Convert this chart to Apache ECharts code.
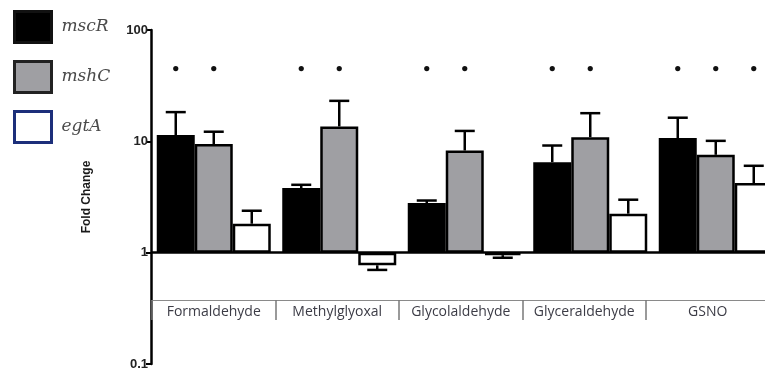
<!DOCTYPE html>
<html>
<head>
<meta charset="utf-8">
<script src="https://cdn.jsdelivr.net/npm/echarts@6/dist/echarts.min.js"></script>
<style>
  html, body { margin: 0; padding: 0; background: #fff; }
  #chart { width: 765px; height: 373px; }
</style>
</head>
<body>
<div id="chart"></div>
<script>
// Aldehyde / GSNO exposure: fold change of three genes (log scale)
const categories = ['Formaldehyde', 'Methylglyoxal', 'Glycolaldehyde', 'Glyceraldehyde', 'GSNO'];
const geneNames = ['mscR', 'mshC', 'egtA'];

const mscR    = [11.4, 3.8, 2.79, 6.5, 10.7];
const mscRErr = [18.3, 4.07, 2.94, 9.17, 16.3];
const mshC    = [9.44, 13.6, 8.27, 10.9, 7.57];
const mshCErr = [12.2, 23.1, 12.4, 17.9, 10.1];
const egtA    = [1.82, 0.77, 0.95, 2.24, 4.22];
const egtAErr = [2.38, 0.70, 0.90, 2.99, 6.03];

// significance markers (*)
const mscRSig = [1, 1, 1, 1, 1];
const mshCSig = [1, 1, 1, 1, 1];
const egtASig = [0, 0, 0, 0, 1];
const sigLevel = 45;

const yTicks = [0.1, 1, 10, 100];

const BAR_W = 38;
const fills = ['#000000', '#9f9fa3', '#ffffff'];
const values = [mscR, mshC, egtA];
const errs = [mscRErr, mshCErr, egtAErr];
const sigs = [mscRSig, mshCSig, egtASig];

function errSeries(k) {
  return {
    type: 'custom',
    xAxisIndex: 0, yAxisIndex: 0,
    z: 1,
    data: categories.map((c, i) => [i, values[k][i], errs[k][i], sigs[k][i]]),
    renderItem: function (params, api) {
      const cat = api.value(0);
      const p0 = api.coord([cat, api.value(1)]);
      const p1 = api.coord([cat, api.value(2)]);
      const x = p0[0] + (k - 1) * BAR_W;
      const half = 10;
      const style = { stroke: '#000', lineWidth: 2.5 };
      const children = [
        { type: 'line', shape: { x1: x, y1: p0[1], x2: x, y2: p1[1] }, style: style },
        { type: 'line', shape: { x1: x - half, y1: p1[1], x2: x + half, y2: p1[1] }, style: style }
      ];
      if (api.value(3)) {
        const ps = api.coord([cat, sigLevel]);
        children.push({ type: 'circle', shape: { cx: x, cy: ps[1], r: 2.6 }, style: { fill: '#111' } });
      }
      return { type: 'group', children: children };
    }
  };
}

const barSeries = geneNames.map((name, k) => ({
  name: name,
  type: 'bar',
  xAxisIndex: 0, yAxisIndex: 0,
  barWidth: BAR_W,
  barGap: '0%',
  z: 2,
  itemStyle: { color: fills[k], borderColor: '#000', borderWidth: 2.5 },
  data: values[k],
  markLine: k === 0 ? {
    silent: true,
    symbol: 'none',
    label: { show: false },
    lineStyle: { color: '#000', width: 2.5, type: 'solid' },
    data: [{ yAxis: 1 }]
  } : undefined
}));

const chart = echarts.init(document.getElementById('chart'), null, { renderer: 'canvas' });
chart.setOption({
  animation: false,
  backgroundColor: '#fff',
  legend: {
    orient: 'vertical',
    left: 13, top: 10,
    padding: 0,
    itemWidth: 37, itemHeight: 31,
    itemGap: 16,
    icon: 'rect',
    textStyle: {
      fontFamily: 'DejaVu Serif', fontStyle: 'italic', fontSize: 17,
      color: '#4a4a4a', padding: [0, 0, 0, 5]
    },
    data: [
      { name: 'mscR', itemStyle: { borderColor: '#111', borderWidth: 3 } },
      { name: 'mshC', itemStyle: { borderColor: '#222', borderWidth: 3 } },
      { name: 'egtA', itemStyle: { borderColor: '#1c2f7a', borderWidth: 3 } }
    ]
  },
  grid: [
    { left: 151, top: 30, width: 627.5, height: 334, outerBoundsMode: 'none' },
    { left: 152, top: 290, width: 617.5, height: 10, outerBoundsMode: 'none' }
  ],
  xAxis: [
    {
      gridIndex: 0, type: 'category', data: categories,
      axisLine: { show: false }, axisTick: { show: false }, axisLabel: { show: false }
    },
    {
      gridIndex: 1, type: 'category', data: categories, position: 'bottom',
      axisLine: { show: true, lineStyle: { color: '#8a8a8a', width: 1 } },
      axisTick: { show: true, interval: 0, length: 20, lineStyle: { color: '#7a7a7a', width: 1.5 } },
      axisLabel: { interval: 0, margin: 5, fontFamily: 'Open Sans', fontSize: 14, color: '#3c3c46' }
    }
  ],
  yAxis: [
    {
      gridIndex: 0, type: 'log', logBase: 10, min: 0.1, max: 100,
      name: 'Fold Change', nameLocation: 'middle', nameGap: 58,
      nameTextStyle: { fontFamily: 'Liberation Sans', fontWeight: 'bold', fontSize: 12, color: '#1a1a1a' },
      axisLine: { show: true, lineStyle: { color: '#000', width: 2.5 } },
      axisTick: { show: true, length: 5, lineStyle: { color: '#000', width: 2 } },
      splitLine: { show: false },
      axisLabel: {
        fontFamily: 'Liberation Sans', fontWeight: 'bold', fontSize: 13, color: '#222', margin: 3,
        formatter: function (v) { return yTicks.indexOf(v) >= 0 ? String(v) : ''; }
      }
    },
    { gridIndex: 1, type: 'value', show: false }
  ],
  series: barSeries.concat([errSeries(0), errSeries(1), errSeries(2)])
});
</script>
</body>
</html>
